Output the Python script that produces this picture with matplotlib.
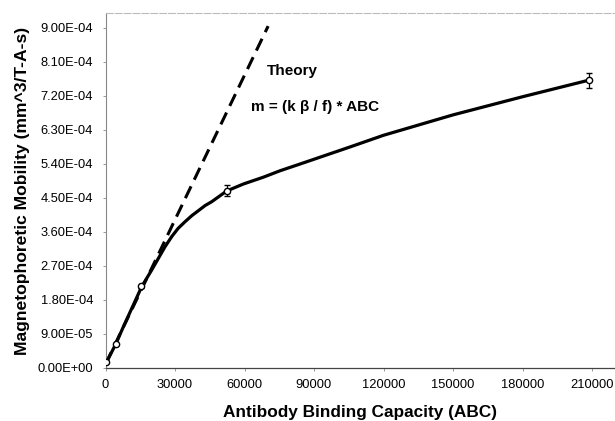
import matplotlib
matplotlib.use("Agg")
import matplotlib.pyplot as plt
from matplotlib.ticker import FixedLocator

plt.rcParams['font.family'] = ['Liberation Sans', 'DejaVu Sans']

# measured data points
abc = [0, 4400, 15500, 52300, 208700]
mobility = [1.7e-5, 6.35e-5, 2.16e-4, 4.69e-4, 7.62e-4]
mobility_err = [0, 0, 4e-6, 1.45e-5, 2.0e-5]

# fitted curve
fit_x = [0, 4400, 7700, 15600, 19900, 22800, 25700, 28600, 31400, 34300, 37200,
         40100, 43000, 45800, 52300, 59500, 68100, 75300, 84000, 105500, 120000,
         150000, 180000, 208700]
fit_y = [1.0e-5, 6.3e-5, 1.09e-4, 2.15e-4, 2.59e-4, 2.90e-4, 3.21e-4, 3.48e-4,
         3.70e-4, 3.87e-4, 4.03e-4, 4.165e-4, 4.30e-4, 4.40e-4, 4.685e-4, 4.87e-4,
         5.05e-4, 5.22e-4, 5.40e-4, 5.85e-4, 6.16e-4, 6.70e-4, 7.18e-4, 7.62e-4]

# theory line
theory_x = [0, 70200]
theory_y = [1.0e-5, 9.05e-4]

x_ticks = [0, 30000, 60000, 90000, 120000, 150000, 180000, 210000]
y_ticks = [0, 9e-5, 1.8e-4, 2.7e-4, 3.6e-4, 4.5e-4, 5.4e-4, 6.3e-4, 7.2e-4, 8.1e-4, 9.0e-4]
y_tick_labels = ['0.00E+00', '9.00E-05', '1.80E-04', '2.70E-04', '3.60E-04', '4.50E-04',
                 '5.40E-04', '6.30E-04', '7.20E-04', '8.10E-04', '9.00E-04']

fig = plt.figure(figsize=(6.15, 4.21), dpi=100)
ax = fig.add_axes([105.5/615, 1 - 368/421, (614 - 105.5)/615, (368 - 13)/421])

ax.plot(theory_x, theory_y, color='black', lw=2.2, dashes=(4.3, 2.4), zorder=2)
ax.plot(fit_x, fit_y, color='black', lw=2.3, solid_capstyle='round',
        solid_joinstyle='round', zorder=3)
ax.errorbar(abc, mobility, yerr=mobility_err, fmt='o', ms=4.5, mfc='white', mec='black',
            mew=1.0, ecolor='black', elinewidth=0.9, capsize=2.5, capthick=0.9, zorder=4)

ax.set_xlim(0, 210000 + 22 / 69.5 * 30000)
ax.set_ylim(0, 9e-4 + 15 / 34 * 9e-5)

ax.xaxis.set_major_locator(FixedLocator(x_ticks))
ax.set_xticklabels([str(v) for v in x_ticks])
ax.yaxis.set_major_locator(FixedLocator(y_ticks))
ax.set_yticklabels(y_tick_labels)
ax.tick_params(axis='both', labelsize=9.3, length=2, width=0.6, color='#888888', pad=7)
ax.tick_params(axis='x', pad=6)

ax.spines['top'].set_color('#bbbbbb')
ax.spines['top'].set_linewidth(0.8)
ax.spines['top'].set_linestyle((0, (6, 2)))
ax.spines['right'].set_visible(False)
ax.spines['left'].set_color('#888888')
ax.spines['left'].set_linewidth(0.8)
ax.spines['bottom'].set_color('#444444')
ax.spines['bottom'].set_linewidth(0.9)

ax.set_xlabel('Antibody Binding Capacity (ABC)', fontsize=12.4, fontweight='bold')
ax.set_ylabel('Magnetophoretic Mobility (mm^3/T-A-s)', fontsize=12.6, fontweight='bold')
ax.xaxis.set_label_coords(0.5, -(405 - 368) / 355)
ax.yaxis.set_label_coords(-(105.5 - 30) / 508.5, 0.5)

fig.text(266.7 / 615, 1 - 71 / 421, 'Theory', fontsize=11, fontweight='bold',
         va='center', ha='left')
fig.text(250.7 / 615, 1 - 106.7 / 421, 'm = (k \u03b2 / f) * ABC', fontsize=11,
         fontweight='bold', va='center', ha='left')

fig.savefig('out.png', dpi=100)
